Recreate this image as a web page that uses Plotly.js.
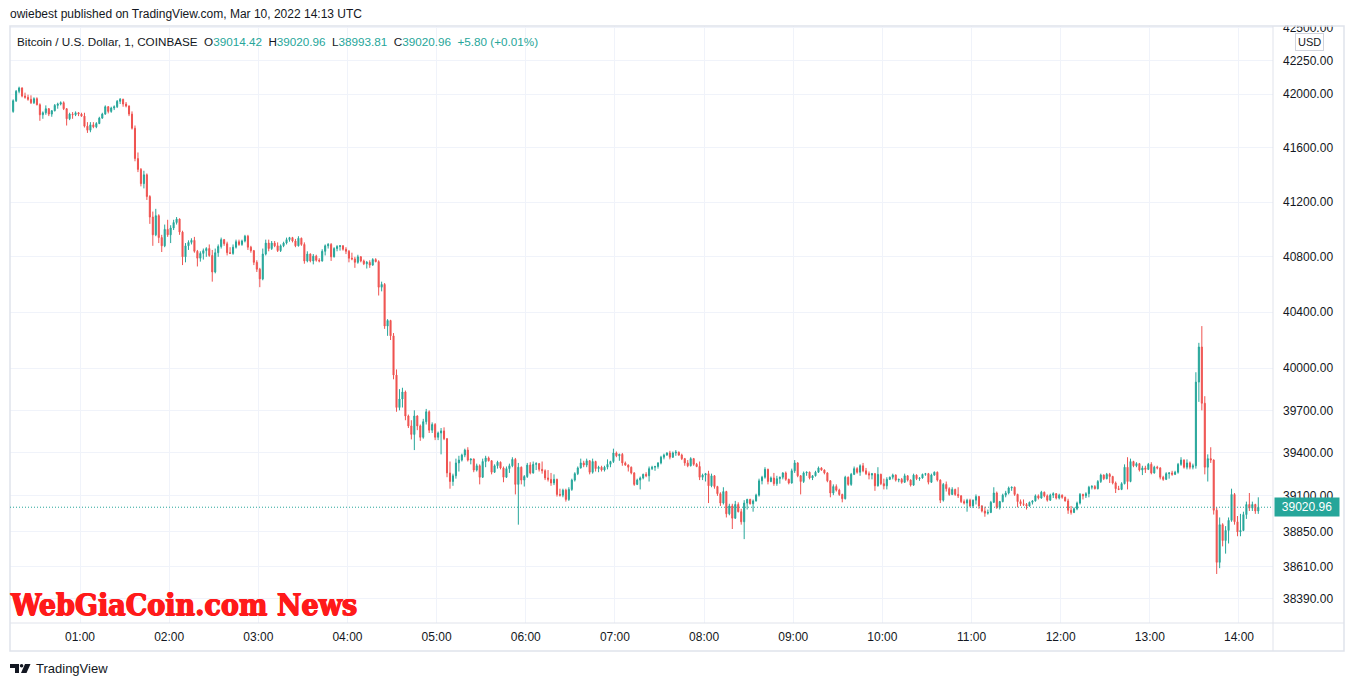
<!DOCTYPE html>
<html><head><meta charset="utf-8">
<script src="https://cdn.plot.ly/plotly-3.0.1.min.js"></script>
<style>html,body{margin:0;padding:0;background:#fff;overflow:hidden}#chart{width:1354px;height:686px}</style>
</head><body><div id="chart"></div>
<script>
// BTC/USD, COINBASE, Mar 10 2022 — candles (2-minute bars starting 00:15 UTC)
const openPrices = [
41870,41950,42020,42045,41985,41975,41960,41935,41965,41920,
41845,41860,41890,41850,41875,41915,41925,41935,41890,41815,
41850,41845,41860,41850,41835,41760,41730,41770,41755,41780,
41820,41850,41905,41870,41895,41905,41945,41960,41925,41910,
41850,41745,41520,41440,41335,41400,41240,41090,40960,41100,
40940,40880,41000,40960,41010,41050,41075,40980,40800,40880,
40905,40920,40840,40790,40825,40845,40860,40810,40690,40830,
40875,40925,40895,40830,40825,40870,40910,40890,40915,40950,
40870,40845,40760,40710,40640,40820,40900,40860,40900,40880,
40845,40880,40900,40925,40940,40915,40880,40935,40890,40770,
40820,40770,40805,40775,40770,40840,40880,40890,40800,40860,
40875,40880,40855,40840,40790,40785,40760,40800,40770,40750,
40760,40740,40780,40765,40580,40600,40300,40340,40230,39950,
39720,39780,39830,39660,39590,39530,39660,39590,39510,39620,
39690,39560,39600,39510,39540,39555,39500,39260,39200,39240,
39330,39350,39385,39420,39350,39358,39280,39310,39230,39340,
39365,39345,39265,39310,39335,39295,39230,39290,39310,39355,
39180,39300,39210,39235,39315,39260,39320,39325,39285,39275,
39225,39215,39190,39215,39110,39105,39140,39075,39145,39210,
39255,39295,39330,39315,39345,39265,39340,39290,39300,39280,
39300,39320,39340,39400,39380,39390,39330,39315,39300,39260,
39180,39210,39225,39250,39240,39290,39300,39305,39330,39370,
39385,39400,39370,39400,39405,39385,39360,39330,39310,39360,
39320,39305,39230,39245,39255,39170,39240,39165,39115,39050,
39130,38975,39030,38945,39040,38990,38920,39050,39075,39045,
39065,39105,39205,39230,39285,39200,39225,39185,39220,39230,
39260,39215,39190,39275,39330,39240,39200,39260,39265,39225,
39240,39265,39295,39280,39260,39205,39120,39165,39140,39110,
39080,39230,39180,39250,39290,39265,39310,39275,39255,39245,
39255,39170,39250,39185,39170,39215,39230,39245,39210,39215,
39195,39240,39210,39175,39245,39220,39225,39250,39255,39195,
39245,39265,39210,39070,39180,39150,39110,39145,39110,39100,
39060,39050,39070,39030,39070,39095,39030,38995,38980,38985,
39055,39120,39020,39060,39105,39120,39155,39160,39110,39060,
39045,39040,39030,39055,39065,39100,39085,39125,39100,39070,
39105,39115,39085,39105,39090,39065,39000,38985,39010,39050,
39110,39100,39115,39160,39165,39150,39200,39245,39220,39250,
39235,39190,39150,39145,39185,39300,39200,39340,39310,39325,
39280,39295,39285,39320,39260,39300,39295,39230,39215,39255,
39260,39250,39265,39320,39350,39300,39330,39300,39310,39900,
40150,39750,39300,39360,39350,39000,38640,38900,38790,38860,
38930,39110,38920,38850,38860,38970,39040,39015,39040,38995];

const highPrices = [
41960,42030,42055,42050,42010,41995,41990,41975,41975,41930,
41870,41915,41895,41880,41925,41935,41945,41945,41895,41860,
41865,41870,41865,41860,41860,41790,41790,41790,41790,41830,
41860,41915,41910,41905,41915,41955,41970,41965,41940,41915,
41870,41765,41565,41450,41430,41410,41250,41130,41150,41110,
40960,41035,41070,41030,41070,41090,41080,40990,40900,40920,
40935,40945,40850,40840,40860,40870,40890,40850,40860,40890,
40940,40930,40910,40870,40890,40925,40925,40925,40960,40960,
40880,40850,40775,40720,40860,40925,40925,40915,40915,40905,
40890,40910,40940,40945,40945,40930,40950,40940,40905,40840,
40825,40820,40815,40790,40855,40890,40900,40900,40870,40885,
40885,40885,40870,40850,40830,40800,40815,40805,40780,40770,
40775,40790,40790,40775,40620,40610,40350,40345,40250,39990,
39850,39860,39840,39670,39630,39700,39665,39600,39640,39710,
39700,39615,39610,39550,39575,39580,39505,39340,39255,39360,
39380,39395,39430,39440,39360,39360,39325,39320,39360,39380,
39375,39350,39320,39345,39340,39305,39305,39325,39370,39365,
39330,39305,39245,39330,39335,39340,39335,39330,39340,39285,
39280,39260,39250,39220,39150,39150,39150,39160,39220,39265,
39305,39360,39345,39360,39350,39360,39345,39310,39310,39310,
39355,39345,39430,39410,39395,39400,39340,39320,39305,39265,
39220,39235,39255,39265,39305,39310,39310,39335,39380,39395,
39405,39415,39410,39420,39410,39395,39365,39350,39370,39365,
39330,39340,39255,39260,39275,39255,39245,39170,39125,39160,
39135,39045,39045,39065,39055,39010,39070,39080,39080,39075,
39115,39220,39240,39300,39290,39235,39260,39240,39235,39265,
39270,39220,39290,39350,39335,39245,39270,39270,39270,39245,
39275,39305,39300,39285,39265,39210,39180,39180,39150,39115,
39240,39235,39260,39305,39300,39320,39330,39295,39270,39260,
39260,39300,39255,39220,39230,39235,39255,39250,39220,39225,
39255,39245,39215,39255,39250,39230,39255,39260,39260,39255,
39270,39270,39215,39190,39200,39160,39160,39150,39160,39105,
39075,39080,39080,39075,39110,39100,39035,39025,39005,39065,
39160,39130,39065,39115,39135,39165,39165,39165,39115,39075,
39075,39050,39060,39070,39110,39110,39135,39130,39110,39115,
39125,39120,39115,39110,39095,39080,39030,39020,39060,39120,
39115,39125,39170,39175,39175,39210,39255,39250,39260,39260,
39240,39200,39170,39195,39320,39370,39360,39345,39335,39330,
39310,39310,39330,39335,39310,39310,39300,39240,39265,39265,
39275,39275,39330,39370,39355,39355,39340,39325,39970,40180,
40300,39800,39390,39440,39355,39020,38950,38910,38890,38950,
39150,39120,38960,38975,38990,39060,39120,39060,39045,39090];

const lowPrices = [
41860,41940,42005,41975,41965,41950,41925,41925,41915,41800,
41815,41845,41835,41830,41870,41890,41915,41880,41765,41805,
41815,41835,41835,41830,41750,41710,41715,41745,41745,41775,
41815,41845,41855,41860,41880,41895,41925,41905,41900,41835,
41735,41500,41420,41315,41300,41215,41040,40880,40950,40900,
40835,40870,40945,40900,40995,41035,40960,40740,40760,40850,
40890,40830,40730,40765,40780,40800,40800,40620,40680,40800,
40860,40880,40810,40820,40815,40860,40880,40880,40905,40850,
40830,40740,40690,40580,40630,40810,40840,40850,40870,40835,
40835,40870,40890,40910,40905,40870,40875,40880,40750,40760,
40760,40745,40765,40760,40765,40810,40860,40770,40795,40840,
40845,40845,40820,40760,40775,40720,40750,40760,40740,40715,
40720,40735,40760,40520,40550,40280,40230,40200,39920,39690,
39700,39720,39630,39575,39495,39420,39560,39485,39500,39600,
39540,39540,39490,39490,39390,39490,39230,39150,39170,39220,
39270,39340,39370,39340,39320,39265,39270,39180,39225,39300,
39340,39250,39260,39290,39285,39195,39225,39260,39300,39110,
38900,39180,39165,39225,39250,39255,39280,39270,39255,39210,
39200,39170,39175,39095,39095,39090,39060,39065,39135,39200,
39245,39290,39300,39300,39250,39255,39270,39265,39270,39270,
39285,39300,39330,39370,39345,39310,39310,39270,39250,39170,
39175,39145,39215,39230,39200,39280,39275,39290,39320,39355,
39380,39355,39365,39380,39380,39350,39310,39300,39305,39310,
39300,39210,39210,39200,39050,39160,39150,39100,39030,39040,
38950,38965,38870,38940,38985,38900,38800,39005,39040,38990,
39060,39095,39180,39220,39180,39195,39170,39170,39185,39215,
39205,39180,39185,39260,39230,39110,39190,39240,39215,39210,
39235,39260,39275,39250,39195,39090,39105,39130,39100,39055,
39075,39170,39170,39245,39255,39240,39265,39245,39215,39215,
39135,39165,39175,39145,39145,39210,39215,39200,39195,39185,
39190,39200,39165,39170,39210,39205,39220,39240,39180,39190,
39240,39200,39050,39060,39130,39100,39105,39100,39085,39050,
39040,38990,39020,39015,39040,39010,38985,38955,38970,38980,
39050,39010,39005,39055,39090,39110,39135,39100,39020,39030,
39030,39005,39025,39040,39060,39075,39080,39090,39060,39065,
39085,39075,39075,39080,39060,38975,38970,38980,39000,39040,
39075,39085,39090,39145,39145,39145,39190,39210,39215,39190,
39180,39120,39140,39140,39180,39145,39195,39300,39300,39270,
39245,39260,39280,39250,39255,39285,39215,39205,39210,39220,
39240,39245,39255,39310,39290,39285,39285,39285,39290,39760,
39700,39250,39200,39330,38970,38560,38600,38750,38700,38770,
38920,38900,38820,38820,38855,38940,38995,38995,38975,38975];

const closePrices = [
41950,42020,42045,41985,41975,41960,41935,41965,41920,41845,
41860,41890,41850,41875,41915,41925,41935,41890,41815,41850,
41845,41860,41850,41835,41760,41730,41770,41755,41780,41820,
41850,41905,41870,41895,41905,41945,41960,41925,41910,41850,
41745,41520,41440,41335,41400,41240,41090,40960,41100,40940,
40880,41000,40960,41010,41050,41075,40980,40800,40880,40905,
40920,40840,40790,40825,40845,40860,40810,40690,40830,40875,
40925,40895,40830,40825,40870,40910,40890,40915,40950,40870,
40845,40760,40710,40640,40820,40900,40860,40900,40880,40845,
40880,40900,40925,40940,40915,40880,40935,40890,40770,40820,
40770,40805,40775,40770,40840,40880,40890,40800,40860,40875,
40880,40855,40840,40790,40785,40760,40800,40770,40750,40760,
40740,40780,40765,40580,40600,40300,40340,40230,39950,39720,
39780,39830,39660,39590,39530,39660,39590,39510,39620,39690,
39560,39600,39510,39540,39555,39500,39260,39200,39240,39330,
39350,39385,39420,39350,39358,39280,39310,39230,39340,39365,
39345,39265,39310,39335,39295,39230,39290,39310,39355,39180,
39300,39210,39235,39315,39260,39320,39325,39285,39275,39225,
39215,39190,39215,39110,39105,39140,39075,39145,39210,39255,
39295,39330,39315,39345,39265,39340,39290,39300,39280,39300,
39320,39340,39400,39380,39390,39330,39315,39300,39260,39180,
39210,39225,39250,39240,39290,39300,39305,39330,39370,39385,
39400,39370,39400,39405,39385,39360,39330,39310,39360,39320,
39305,39230,39245,39255,39170,39240,39165,39115,39050,39130,
38975,39030,38945,39040,38990,38920,39050,39075,39045,39065,
39105,39205,39230,39285,39200,39225,39185,39220,39230,39260,
39215,39190,39275,39330,39240,39200,39260,39265,39225,39240,
39265,39295,39280,39260,39205,39120,39165,39140,39110,39080,
39230,39180,39250,39290,39265,39310,39275,39255,39245,39255,
39170,39250,39185,39170,39215,39230,39245,39210,39215,39195,
39240,39210,39175,39245,39220,39225,39250,39255,39195,39245,
39265,39210,39070,39180,39150,39110,39145,39110,39100,39060,
39050,39070,39030,39070,39095,39030,38995,38980,38985,39055,
39120,39020,39060,39105,39120,39155,39160,39110,39060,39045,
39040,39030,39055,39065,39100,39085,39125,39100,39070,39105,
39115,39085,39105,39090,39065,39000,38985,39010,39050,39110,
39100,39115,39160,39165,39150,39200,39245,39220,39250,39235,
39190,39150,39145,39185,39300,39200,39340,39310,39325,39280,
39295,39285,39320,39260,39300,39295,39230,39215,39255,39260,
39250,39265,39320,39350,39300,39330,39300,39310,39900,40150,
39750,39300,39360,39350,39000,38640,38900,38790,38860,38930,
39110,38920,38850,38860,38970,39040,39015,39040,38995,39020.96];

const sessionDate = '2022-03-10';
const firstBarMinute = 15;   // 00:15 UTC
const barMinutes = 2;

const hourTickText = ['01:00','02:00','03:00','04:00','05:00','06:00','07:00','08:00','09:00','10:00','11:00','12:00','13:00','14:00'];
const priceTickVals = [38390, 38610, 38850, 39100, 39400, 39700, 40000, 40400, 40800, 41200, 41600, 42000, 42250, 42500];
const lastPrice = 39020.96;
const legendLabel = 'Bitcoin / U.S. Dollar, 1, COINBASE';
const legendNames = ['O', 'H', 'L', 'C'];
const legendValues = ['39014.42', '39020.96', '38993.81', '39020.96'];
const legendChange = '+5.80 (+0.01%)';

function stamp(totalMin) {
  const h = Math.floor(totalMin / 60), m = totalMin % 60;
  return sessionDate + ' ' + String(h).padStart(2, '0') + ':' + String(m).padStart(2, '0');
}
const times = closePrices.map((_, i) => stamp(firstBarMinute + barMinutes * i));
const hourTickVals = hourTickText.map(t => sessionDate + ' ' + t);
const priceTickText = priceTickVals.map(v => v.toFixed(2));

// layout geometry (pixels of the 1354x686 page)
const ML = 10, MT = 26, PW = 1263, PH = 597;
const px = x => (x - ML) / PW;
const py = y => (MT + PH - y) / PH;

const UP = '#26a69a', DOWN = '#ef5350', TXT = '#131722', FRAME = '#e0e3eb', GRID = '#f0f3fa';

const trace = {
  type: 'candlestick', x: times,
  open: openPrices, high: highPrices, low: lowPrices, close: closePrices,
  increasing: {line: {color: UP, width: 1}, fillcolor: UP},
  decreasing: {line: {color: DOWN, width: 1}, fillcolor: DOWN},
  whiskerwidth: 0, hoverinfo: 'skip', showlegend: false
};

const legendHtml = legendLabel + '&nbsp;&nbsp;' +
  legendNames.map((n, i) => n + '<span style="color:' + UP + '">' + legendValues[i] + '</span>').join('&nbsp;&nbsp;') +
  '&nbsp;&nbsp;<span style="color:' + UP + '">' + legendChange + '</span>';

function rectPx(x0, y0, x1, y1, color) {
  return {type: 'rect', xref: 'paper', yref: 'paper', x0: px(x0), x1: px(x1), y0: py(y1), y1: py(y0),
    fillcolor: color, line: {width: 0}, layer: 'above'};
}
function pathPx(pts, color) {
  const d = pts.map((p, i) => (i ? 'L' : 'M') + px(p[0]) + ',' + py(p[1])).join(' ') + ' Z';
  return {type: 'path', xref: 'paper', yref: 'paper', path: d, fillcolor: color, line: {width: 0}, layer: 'above'};
}

const shapes = [
  // mask: the top tick label of the price scale is cut by the frame
  rectPx(1275, 0, 1343, 25.5, '#ffffff'),
  // frame
  {type: 'rect', xref: 'paper', yref: 'paper', x0: px(10), x1: px(1344), y0: py(651), y1: py(26),
    line: {color: FRAME, width: 1.5}, fillcolor: 'rgba(0,0,0,0)', layer: 'above'},
  {type: 'line', xref: 'paper', yref: 'paper', x0: 1, x1: 1, y0: py(651), y1: 1, line: {color: FRAME, width: 1}},
  {type: 'line', xref: 'paper', yref: 'paper', x0: 0, x1: px(1344), y0: 0, y1: 0, line: {color: FRAME, width: 1}},
  // last price line
  {type: 'line', xref: 'paper', yref: 'y', x0: 0, x1: 1, y0: lastPrice, y1: lastPrice,
    line: {color: UP, width: 1, dash: '1px,2px'}},
  // TradingView logo
  rectPx(10, 664, 19, 668, '#131722'),
  rectPx(15, 664, 19, 673, '#131722'),
  {type: 'circle', xref: 'paper', yref: 'paper', x0: px(19.8), x1: px(23.4), y0: py(667.6), y1: py(664),
    fillcolor: '#131722', line: {width: 0}},
  pathPx([[25, 664], [30.5, 664], [26.5, 673], [21, 673]], '#131722')
];

const annotations = [
  {xref: 'paper', yref: 'paper', x: px(8), y: py(14), xanchor: 'left', yanchor: 'middle', showarrow: false,
    text: 'owiebest published on TradingView.com, Mar 10, 2022 14:13 UTC', font: {size: 12, color: TXT}},
  {xref: 'paper', yref: 'paper', x: px(15), y: py(41), xanchor: 'left', yanchor: 'middle', showarrow: false,
    text: legendHtml, font: {size: 11.7, color: TXT}},
  {xref: 'paper', yref: 'paper', x: px(8), y: py(604), xanchor: 'left', yanchor: 'middle', showarrow: false,
    text: '<b>WebGiaCoin.com News</b>',
    font: {family: 'DejaVu Serif Condensed, DejaVu Serif, serif', size: 30, color: '#ff1a1a',
      shadow: '0.7px 0 0 #ff1a1a, -0.7px 0 0 #ff1a1a, 0 0.6px 0 #ff1a1a'}},
  {xref: 'paper', yref: 'paper', x: px(1309), y: py(42), xanchor: 'center', yanchor: 'middle', showarrow: false,
    text: 'USD', font: {size: 11, color: TXT}, bgcolor: '#ffffff', bordercolor: '#d1d4dc', borderwidth: 1, borderpad: 2},
  {xref: 'paper', yref: 'y', x: px(1307), y: Math.log10(lastPrice), xanchor: 'center', yanchor: 'middle', showarrow: false,
    text: lastPrice.toFixed(2), font: {size: 12, color: '#ffffff'}, bgcolor: UP, width: 60, height: 14, borderpad: 2},
  {xref: 'paper', yref: 'paper', x: px(34), y: py(668), xanchor: 'left', yanchor: 'middle', showarrow: false,
    text: 'TradingView', font: {size: 13, color: TXT}}
];

const layout = {
  width: 1354, height: 686,
  margin: {l: ML, r: 1354 - ML - PW, t: MT, b: 686 - MT - PH, pad: 0},
  paper_bgcolor: '#ffffff', plot_bgcolor: '#ffffff',
  font: {family: 'Liberation Sans, Arial, sans-serif', size: 12, color: TXT},
  boxgap: 0.5,
  showlegend: false,
  xaxis: {
    type: 'date',
    range: [sessionDate + ' 00:12:53', sessionDate + ' 14:22:54'],
    tickvals: hourTickVals, ticktext: hourTickText,
    showgrid: true, gridcolor: GRID, gridwidth: 1,
    zeroline: false, showline: false, ticks: '',
    ticklabelstandoff: 5,
    tickfont: {size: 12, color: TXT},
    rangeslider: {visible: false}, fixedrange: true
  },
  yaxis: {
    type: 'log', side: 'right',
    range: [4.582347, 4.628507],
    tickvals: priceTickVals, ticktext: priceTickText,
    showgrid: true, gridcolor: GRID, gridwidth: 1,
    zeroline: false, showline: false, ticks: '',
    ticklabelstandoff: 9,
    tickfont: {size: 12, color: TXT}, fixedrange: true
  },
  shapes: shapes,
  annotations: annotations
};

Plotly.newPlot('chart', [trace], layout, {displayModeBar: false, staticPlot: true});
</script>
</body></html>
